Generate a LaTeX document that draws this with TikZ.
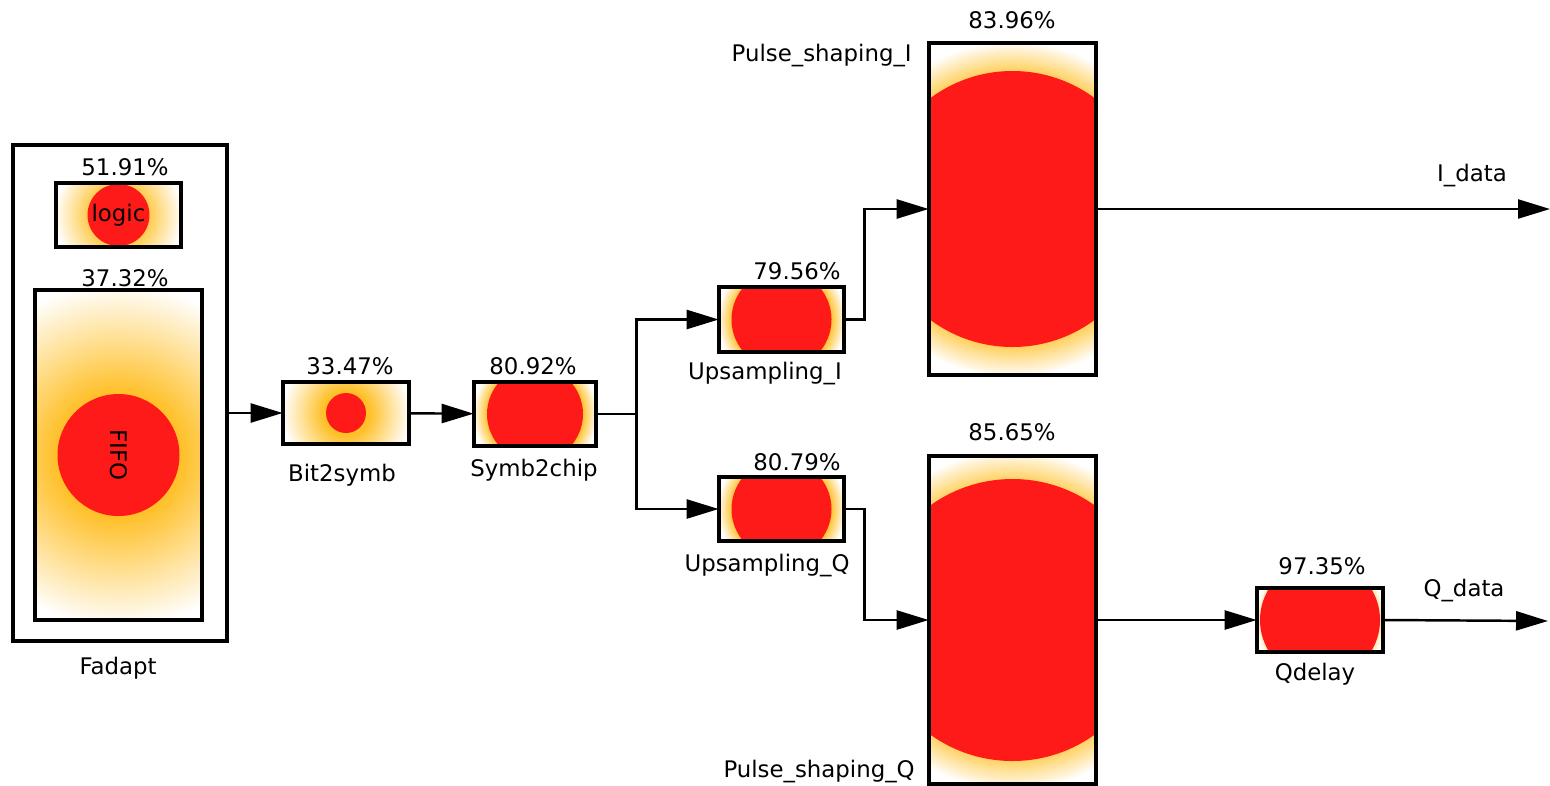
\documentclass[tikz,border=0pt]{standalone}
\usepackage{fontspec}
\setmainfont{DejaVu Sans}
\usepackage{graphicx}
\usepackage{xcolor}
\usepackage{tikz}
\usetikzlibrary{arrows.meta, positioning, calc}
\definecolor{HotRed}{HTML}{FF1A1A}
\definecolor{GlowOrange}{HTML}{FFC028}
\pgfdeclareradialshading{glowthin}{\pgfpointorigin}{color(0bp)=(GlowOrange); color(19bp)=(GlowOrange); color(25bp)=(white); color(50bp)=(white)}
\pgfdeclareradialshading{glowwide}{\pgfpointorigin}{color(0bp)=(GlowOrange); color(9bp)=(GlowOrange); color(25bp)=(white); color(50bp)=(white)}

\begin{document}
\begin{tikzpicture}[
  x=0.02cm, y=-0.02cm,
  unit/.style={rectangle, inner sep=0pt, font=\fontsize{13}{15}\selectfont, postaction={draw=black, line width=2.2pt}},
  heat/.style n args={3}{path picture={
      \shade[shading=#1] (path picture bounding box.center) circle (#3);
      \fill[HotRed] (path picture bounding box.center) circle (#2);}},
  group/.style={rectangle, draw=black, line width=2.2pt, inner sep=0pt},
  pct/.style={font=\fontsize{13}{15}\selectfont, inner sep=0pt},
  caption/.style={font=\fontsize{13}{15}\selectfont, inner sep=0pt},
  arrow/.style={-{Triangle[length=0.64cm, width=0.38cm]}, line width=1.4pt}
]
\useasboundingbox (0,0) rectangle (1550,785);

% Fadapt with its two parts
\node[group, minimum width=4.28cm, minimum height=9.92cm] (fadapt) at (120,393) {};
\node[unit, heat={glowwide}{31}{64}, minimum width=2.5cm, minimum height=1.28cm] (logic) at (118.5,215) {logic};
\node[unit, heat={glowwide}{61}{172}, minimum width=3.34cm, minimum height=6.6cm] (fifo) at (118.5,455) {\rotatebox{-90}{FIFO}};

\node[unit, heat={glowwide}{20}{64}, minimum width=2.52cm, minimum height=1.24cm] (bit2symb) at (346,413) {};
\node[unit, heat={glowthin}{48}{62}, minimum width=2.44cm, minimum height=1.28cm] (symb2chip) at (535,414) {};
\node[unit, heat={glowthin}{50}{64}, minimum width=2.5cm, minimum height=1.3cm] (up_i) at (781.5,319.5) {};
\node[unit, heat={glowthin}{50}{64}, minimum width=2.5cm, minimum height=1.28cm] (up_q) at (781.5,509) {};
\node[unit, heat={glowthin}{138}{168}, minimum width=3.34cm, minimum height=6.64cm] (ps_i) at (1012.5,209) {};
\node[unit, heat={glowthin}{141}{170}, minimum width=3.34cm, minimum height=6.56cm] (ps_q) at (1012.5,620) {};
\node[unit, heat={glowthin}{60}{65}, minimum width=2.52cm, minimum height=1.28cm] (qdelay) at (1320,620) {};

% utilisation figures
\node[pct] (pct_logic) at (125,167) {51.91\%};
\node[pct] (pct_fifo) at (125,278) {37.32\%};
\node[pct] (pct_bit2symb) at (350,366) {33.47\%};
\node[pct] (pct_symb2chip) at (533,366) {80.92\%};
\node[pct] (pct_up_i) at (797,271) {79.56\%};
\node[pct] (pct_up_q) at (797,462) {80.79\%};
\node[pct] (pct_ps_i) at (1012,20) {83.96\%};
\node[pct] (pct_ps_q) at (1012,432) {85.65\%};
\node[pct] (pct_qdelay) at (1322,566) {97.35\%};

% block names
\node[caption] (cap_fadapt) at (118,668) {Fadapt};
\node[caption] (cap_bit2symb) at (342,475) {Bit2symb};
\node[caption] (cap_symb2chip) at (534,470) {Symb2chip};
\node[caption] (cap_up_i) at (765,374) {Upsampling\_I};
\node[caption] (cap_up_q) at (767,566) {Upsampling\_Q};
\node[caption, anchor=east] (cap_ps_i) at (912,56) {Pulse\_shaping\_I};
\node[caption, anchor=east] (cap_ps_q) at (915,771) {Pulse\_shaping\_Q};
\node[caption] (cap_qdelay) at (1315,674) {Qdelay};
\node[caption] (cap_idata) at (1472,176) {I\_data};
\node[caption] (cap_qdata) at (1464,591) {Q\_data};

\coordinate (idata) at (1550,209);
\coordinate (qdata) at (1548,621);

\draw[arrow] (fadapt.east |- bit2symb.west) -- (bit2symb.west);
\draw[arrow] (bit2symb) -- (symb2chip);
\draw[arrow] (symb2chip.east) -- ++(40,0) |- (up_i.west);
\draw[arrow] (symb2chip.east) -- ++(40,0) |- (up_q.west);
\draw[arrow] (up_i.east) -- ++(20,0) |- (ps_i.west);
\draw[arrow] (up_q.east) -- ++(20,0) |- (ps_q.west);
\draw[arrow] (ps_i.east) -- (idata);
\draw[arrow] (ps_q.east) -- (qdelay.west);
\draw[arrow] (qdelay.east) -- (qdata);

\end{tikzpicture}
\end{document}
